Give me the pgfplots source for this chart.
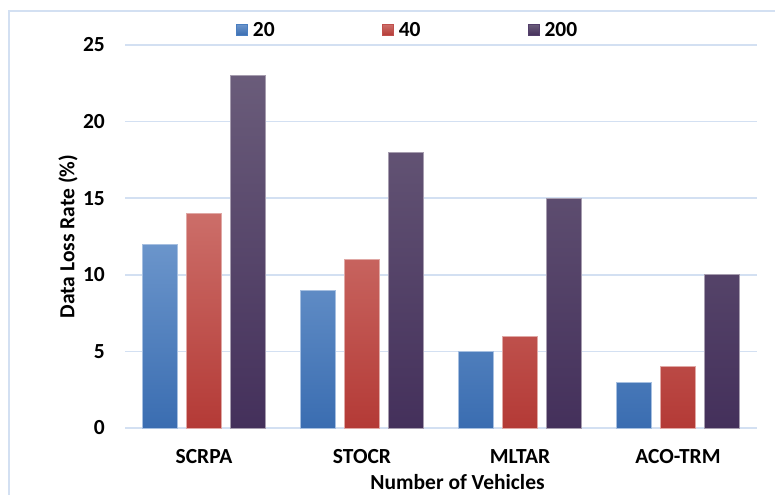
\documentclass[border=0pt]{standalone}
\usepackage{pgfplots}
\pgfplotsset{compat=1.18}
\usepackage{fontspec}
\setmainfont{Carlito}
\definecolor{gridc}{HTML}{D3E0F2}
\definecolor{bTop}{HTML}{6B95CB}
\definecolor{bBot}{HTML}{3A6DB1}
\definecolor{rTop}{HTML}{CC6E69}
\definecolor{rBot}{HTML}{B43A36}
\definecolor{pTop}{HTML}{6A5C7A}
\definecolor{pBot}{HTML}{44305B}
\definecolor{bMid}{HTML}{4A7EC0}
\definecolor{rMid}{HTML}{C0504D}
\definecolor{pMid}{HTML}{533F6B}
\begin{document}
\begin{tikzpicture}[x=1pt,y=1pt]
\useasboundingbox (0,0) rectangle (775,495);
\draw[gridc, line width=2pt] (9,0) -- (9,484) -- (775,484);
\begin{axis}[
  at={(125pt,67pt)}, anchor=south west,
  scale only axis, width=632pt, height=383pt,
  ybar, bar width=35.5pt,
  xmin=-0.5, xmax=3.5, ymin=0, ymax=25,
  xtick={0,1,2,3}, xticklabels={SCRPA,STOCR,MLTAR,ACO-TRM},
  ytick={0,5,10,15,20,25},
  ymajorgrids, major grid style={gridc, line width=1.6pt},
  axis line style={draw=none},
  major tick length=0pt,
  /pgf/number format/assume math mode=true,
  ticklabel style={font=\fontsize{21.5}{25}\selectfont\bfseries},
  yticklabel style={inner sep=0pt, xshift=-20pt},
  xticklabel style={inner sep=0pt, yshift=-21pt, anchor=north},
  xlabel={Number of Vehicles},
  ylabel={Data Loss Rate (\%)},
  label style={font=\fontsize{21.5}{25}\selectfont\bfseries},
  xlabel style={at={(axis description cs:0.5262,0)}, anchor=north, inner sep=0pt, yshift=-46pt},
  ylabel style={at={(axis description cs:0,0.5)}, anchor=center, inner sep=0pt, yshift=57pt},
  legend columns=3,
  legend style={at={(rel axis cs:0.1756,1.039)}, anchor=west, draw=none, fill=none,
    inner sep=0pt, nodes={inner sep=0pt, font=\fontsize{21.5}{25}\selectfont\bfseries},
    /tikz/every odd column/.append style={column sep=5pt}},
  clip=false,
]
\addplot[bar shift=-44pt, top color=bTop, bottom color=bBot, draw=bTop!60!white, line width=0.8pt,
  legend image code/.code={\fill[bMid] (0pt,-5.5pt) rectangle (11pt,5.5pt);}]
  coordinates {(0,12) (1,9) (2,5) (3,3)};
\addlegendentry{\makebox[129pt][l]{20}}
\addplot[bar shift=0pt, top color=rTop, bottom color=rBot, draw=rTop!60!white, line width=0.8pt,
  legend image code/.code={\fill[rMid] (0pt,-5.5pt) rectangle (11pt,5.5pt);}]
  coordinates {(0,14) (1,11) (2,6) (3,4)};
\addlegendentry{\makebox[129pt][l]{40}}
\addplot[bar shift=44pt, top color=pTop, bottom color=pBot, draw=pTop!60!white, line width=0.8pt,
  legend image code/.code={\fill[pMid] (0pt,-5.5pt) rectangle (11pt,5.5pt);}]
  coordinates {(0,23) (1,18) (2,15) (3,10)};
\addlegendentry{200}
\end{axis}
\end{tikzpicture}
\end{document}
